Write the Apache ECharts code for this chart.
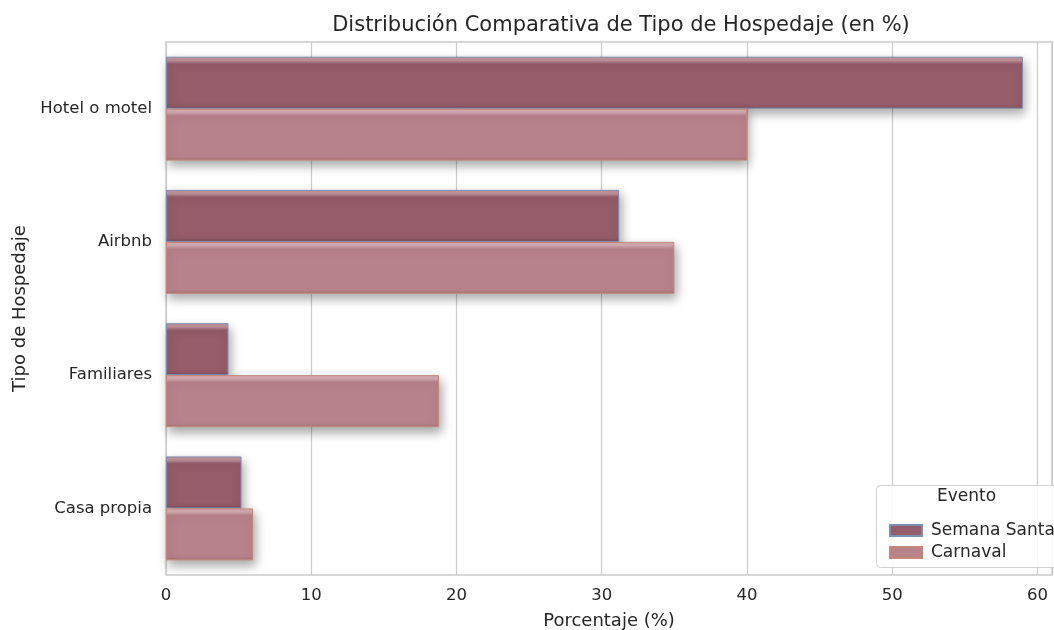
<!DOCTYPE html>
<html>
<head>
<meta charset="utf-8">
<script src="https://cdn.jsdelivr.net/npm/echarts@6/dist/echarts.min.js"></script>
<style>
  html, body { margin: 0; padding: 0; background: #fff; }
  #chart { width: 1054px; height: 630px; }
</style>
</head>
<body>
<div id="chart"></div>
<script>
  const categories = ['Hotel o motel', 'Airbnb', 'Familiares', 'Casa propia'];
  const semanaSanta = [59.0, 31.2, 4.3, 5.2];
  const carnaval = [40.0, 35.0, 18.8, 6.0];
  const xTicks = [0, 10, 20, 30, 40, 50, 60];

  const font = 'DejaVu Sans';

  // vertical gradient: light strip on top, like a bevel
  function bevel(light, base, dark) {
    return new echarts.graphic.LinearGradient(0, 0, 0, 1, [
      { offset: 0, color: light },
      { offset: 0.07, color: light },
      { offset: 0.14, color: base },
      { offset: 0.93, color: base },
      { offset: 1, color: dark },
    ]);
  }

  const myChart = echarts.init(document.getElementById('chart'));
  const option = {
    backgroundColor: '#ffffff',
    animation: false,
    textStyle: { fontFamily: font },
    title: {
      text: 'Distribución Comparativa de Tipo de Hospedaje (en %)',
      left: 616,
      top: 10,
      textAlign: 'center',
      textStyle: { fontFamily: font, fontSize: 21, fontWeight: 'normal', color: '#262626' },
    },
    grid: {
      left: 166,
      right: 2,
      top: 42,
      bottom: 55,
      outerBoundsMode: 'none',
      containLabel: false,
      show: true,
      borderColor: '#cccccc',
      borderWidth: 1.5,
    },
    legend: {
      orient: 'vertical',
      left: 884,
      top: 517,
      z: 20,
      itemWidth: 32,
      itemHeight: 11,
      itemGap: 5,
      icon: 'rect',
      textStyle: { fontFamily: font, fontSize: 17, color: '#262626', padding: [0, 0, 0, 4] },
      data: ['Semana Santa', 'Carnaval'],
    },
    graphic: [
      {
        type: 'rect',
        left: 876,
        top: 485,
        z: 10,
        shape: { width: 190, height: 82, r: 4 },
        style: { fill: 'rgba(255,255,255,0.85)', stroke: '#d0d0d0', lineWidth: 1 },
      },
      {
        type: 'text',
        left: 937,
        top: 488,
        z: 11,
        style: { text: 'Evento', font: '17px "DejaVu Sans"', fill: '#262626' },
      },
    ],
    xAxis: {
      type: 'value',
      min: 0,
      max: 61,
      interval: 10,
      name: 'Porcentaje (%)',
      nameLocation: 'middle',
      nameGap: 37,
      nameTextStyle: { fontFamily: font, fontSize: 18, color: '#262626' },
      axisLine: { show: false },
      axisTick: { show: false },
      axisLabel: {
        fontFamily: font,
        fontSize: 16.5,
        color: '#262626',
        margin: 12,
        showMaxLabel: false,
        formatter: (v) => (xTicks.includes(v) ? String(v) : ''),
      },
      splitLine: { show: true, lineStyle: { color: '#cccccc', width: 1.2 } },
    },
    yAxis: {
      type: 'category',
      inverse: true,
      data: categories,
      name: 'Tipo de Hospedaje',
      nameLocation: 'middle',
      nameGap: 136,
      nameRotate: 90,
      nameTextStyle: { fontFamily: font, fontSize: 18, color: '#262626' },
      axisLine: { show: false },
      axisTick: { show: false },
      axisLabel: { fontFamily: font, fontSize: 16.5, color: '#262626', margin: 14 },
      splitLine: { show: false },
    },
    series: [
      {
        name: 'Semana Santa',
        type: 'bar',
        data: semanaSanta,
        barGap: '0%',
        barCategoryGap: '22%',
        itemStyle: {
          color: bevel('#c0929b', '#955c69', '#83505c'),
          borderColor: '#7d8fb0',
          borderWidth: 1,
          shadowColor: 'rgba(0,0,0,0.35)',
          shadowBlur: 10,
          shadowOffsetX: 2,
          shadowOffsetY: 5,
        },
      },
      {
        name: 'Carnaval',
        type: 'bar',
        data: carnaval,
        itemStyle: {
          color: bevel('#d2a9b0', '#b8828b', '#a87179'),
          borderColor: '#c4877a',
          borderWidth: 1,
          shadowColor: 'rgba(0,0,0,0.35)',
          shadowBlur: 10,
          shadowOffsetX: 2,
          shadowOffsetY: 5,
        },
      },
    ],
  };
  myChart.setOption(option);
</script>
</body>
</html>
